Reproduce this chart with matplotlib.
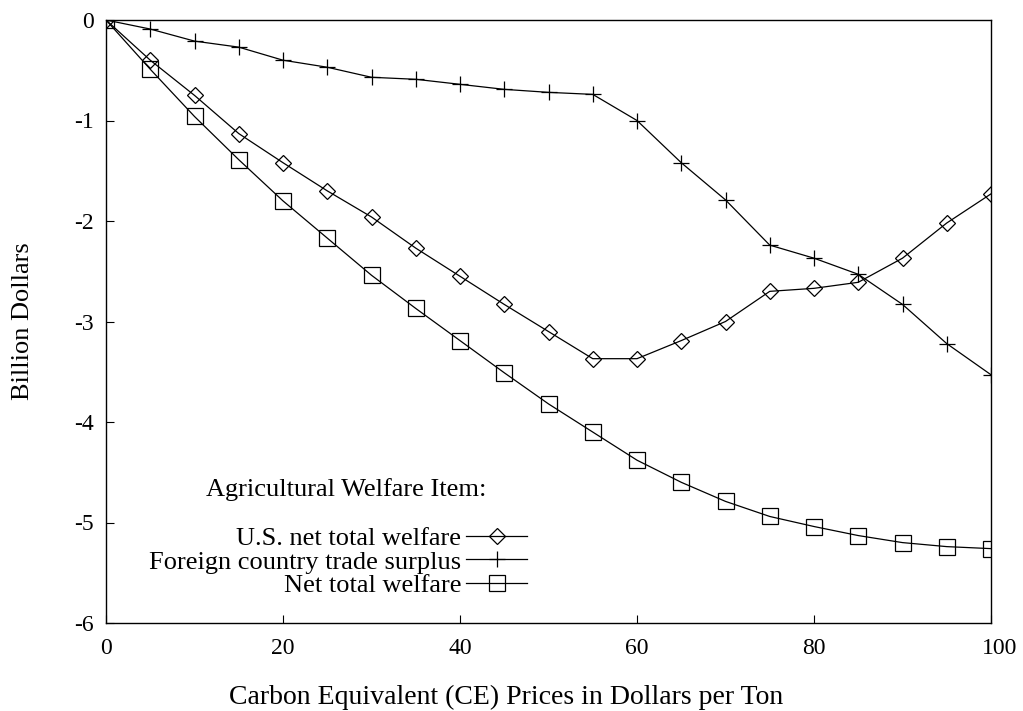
import matplotlib
matplotlib.use("Agg")
import matplotlib.pyplot as plt
import matplotlib.transforms as mtransforms

prices = [0, 5, 10, 15, 20, 25, 30, 35, 40, 45, 50, 55, 60, 65, 70, 75, 80, 85, 90, 95, 100]
us_net_welfare = [0, -0.40, -0.75, -1.13, -1.42, -1.70, -1.96, -2.27, -2.55, -2.83, -3.10,
                  -3.37, -3.37, -3.19, -3.00, -2.70, -2.67, -2.61, -2.37, -2.02, -1.73]
foreign_surplus = [0, -0.09, -0.21, -0.27, -0.40, -0.47, -0.57, -0.59, -0.64, -0.69, -0.72,
                   -0.74, -1.00, -1.42, -1.79, -2.24, -2.37, -2.53, -2.83, -3.22, -3.53]
net_total_welfare = [0, -0.49, -0.96, -1.39, -1.80, -2.17, -2.54, -2.87, -3.19, -3.51, -3.82,
                     -4.10, -4.38, -4.60, -4.79, -4.94, -5.04, -5.13, -5.20, -5.24, -5.26]
series_labels = ["U.S. net total welfare", "Foreign country trade surplus", "Net total welfare"]
legend_title = "Agricultural Welfare Item:"
x_ticks = [0, 20, 40, 60, 80, 100]
y_ticks = [0, -1, -2, -3, -4, -5, -6]

plt.rcParams['font.family'] = ['Liberation Serif', 'DejaVu Serif']
plt.rcParams['axes.unicode_minus'] = False

fig = plt.figure(figsize=(10.23, 7.11), dpi=100)
ax = fig.add_axes([106/1023, 1 - 623/711, (991-106)/1023, (623-20)/711])

ax.plot(prices, us_net_welfare, color='black', lw=0.9, marker='D', markersize=8,
        mfc='none', mec='black', mew=0.9, label=series_labels[0])
ax.plot(prices, foreign_surplus, color='black', lw=0.9, marker='+', markersize=12,
        mew=0.9, label=series_labels[1])
ax.plot(prices, net_total_welfare, color='black', lw=0.9, marker='s', markersize=11,
        mfc='none', mec='black', mew=0.9, label=series_labels[2])

ax.set_xlim(0, 100)
ax.set_ylim(-6, 0)
ax.set_xticks(x_ticks)
ax.set_yticks(y_ticks)
ax.tick_params(direction='in', length=5.5, labelsize=17, top=False, right=False)
ax.tick_params(axis='x', pad=10.5)
ax.tick_params(axis='y', pad=8.5)
for s in ax.spines.values():
    s.set_linewidth(1)

# last x tick label sits slightly right of the axis end
lbl = ax.get_xticklabels()[-1]
lbl.set_transform(lbl.get_transform() + mtransforms.ScaledTranslation(9/100, 0, fig.dpi_scale_trans))

ax.set_xlabel("Carbon Equivalent (CE) Prices in Dollars per Ton", fontsize=20, va='center')
ax.xaxis.set_label_coords((506.5-106)/885, (623-697)/603)
ax.set_ylabel("Billion Dollars", fontsize=19, va='center')
ax.yaxis.set_label_coords((23-106)/885, 0.5)

leg = ax.legend(loc='lower right', bbox_to_anchor=((527-106)/885, (623-597)/603), frameon=False,
                markerfirst=False, fontsize=19, handlelength=2.3, labelspacing=0.0,
                borderaxespad=0, borderpad=0, handletextpad=0.2)
ax.text((346-106)/885, (623-490)/603, legend_title, transform=ax.transAxes,
        fontsize=19, ha='center', va='center')

fig.savefig("out.png", dpi=100)
